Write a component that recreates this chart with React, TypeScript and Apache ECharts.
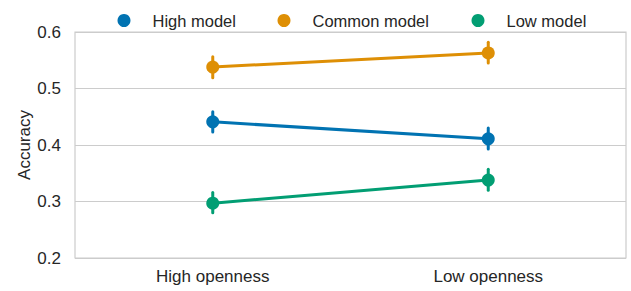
import React, { useEffect, useRef } from "react";
import * as echarts from "echarts";

const categories = ["High openness", "Low openness"];
const seriesNames = ["High model", "Common model", "Low model"];
const colors = ["#0173B2", "#DE8F05", "#029E73"];
const highModel = [0.441, 0.411];
const commonModel = [0.538, 0.563];
const lowModel = [0.297, 0.338];
const highErr = [[0.423, 0.459], [0.393, 0.430]];
const commonErr = [[0.519, 0.556], [0.545, 0.582]];
const lowErr = [[0.280, 0.316], [0.320, 0.357]];
const yTicks = [0.2, 0.3, 0.4, 0.5, 0.6];

const values = [highModel, commonModel, lowModel];
const errs = [highErr, commonErr, lowErr];
const legendLefts = [112.5, 272.5, 466.5];

export default function App() {
  const ref = useRef<HTMLDivElement>(null);
  useEffect(() => {
    if (!ref.current) return;
    const chart = echarts.init(ref.current, undefined, { renderer: "svg" });
    const font = "'Liberation Sans', Arial, sans-serif";
    const series: any[] = [];
    values.forEach((vals, i) => {
      series.push({
        name: seriesNames[i],
        type: "line",
        data: vals,
        symbol: "circle",
        symbolSize: 13,
        itemStyle: { color: colors[i] },
        lineStyle: { color: colors[i], width: 3 },
        z: 3,
      });
      series.push({
        name: seriesNames[i],
        type: "custom",
        data: errs[i].map((e, j) => [j, e[0], e[1]]),
        z: 4,
        renderItem: (params: any, api: any) => {
          const x = api.value(0);
          const p1 = api.coord([x, api.value(1)]);
          const p2 = api.coord([x, api.value(2)]);
          return {
            type: "line",
            shape: { x1: p1[0], y1: p1[1], x2: p2[0], y2: p2[1] },
            style: { stroke: colors[i], lineWidth: 3, lineCap: "round" },
          };
        },
      });
    });
    chart.setOption({
      animation: false,
      textStyle: { fontFamily: font },
      legend: seriesNames.map((n, i) => ({
        data: [n],
        left: legendLefts[i],
        top: 7,
        icon: "circle",
        itemWidth: 13,
        itemHeight: 13,
        textStyle: { fontSize: 16.5, color: "#262626", fontFamily: font, padding: [0, 0, 0, 17] },
      })),
      grid: {
        left: 75,
        right: 5,
        top: 32,
        bottom: 33,
        show: true,
        borderColor: "#cccccc",
        borderWidth: 1.2,
      },
      xAxis: {
        type: "category",
        data: categories,
        axisLine: { show: false },
        axisTick: { show: false },
        axisLabel: { fontSize: 17, color: "#262626", margin: 10, fontFamily: font },
        splitLine: { show: false },
      },
      yAxis: {
        type: "value",
        min: yTicks[0],
        max: yTicks[yTicks.length - 1],
        interval: 0.1,
        name: "Accuracy",
        nameLocation: "middle",
        nameGap: 42,
        nameMoveOverlap: false,
        nameTextStyle: { fontSize: 17, color: "#262626", fontFamily: font },
        axisLine: { show: false },
        axisTick: { show: false },
        axisLabel: {
          fontSize: 17,
          color: "#262626",
          margin: 14,
          fontFamily: font,
          formatter: (v: number) => v.toFixed(1),
        },
        splitLine: { lineStyle: { color: "#cccccc", width: 1.2 } },
      },
      series,
    });
    return () => chart.dispose();
  }, []);
  return <div ref={ref} style={{ width: 631, height: 291, position: "absolute", left: 0, top: 0 }} />;
}
